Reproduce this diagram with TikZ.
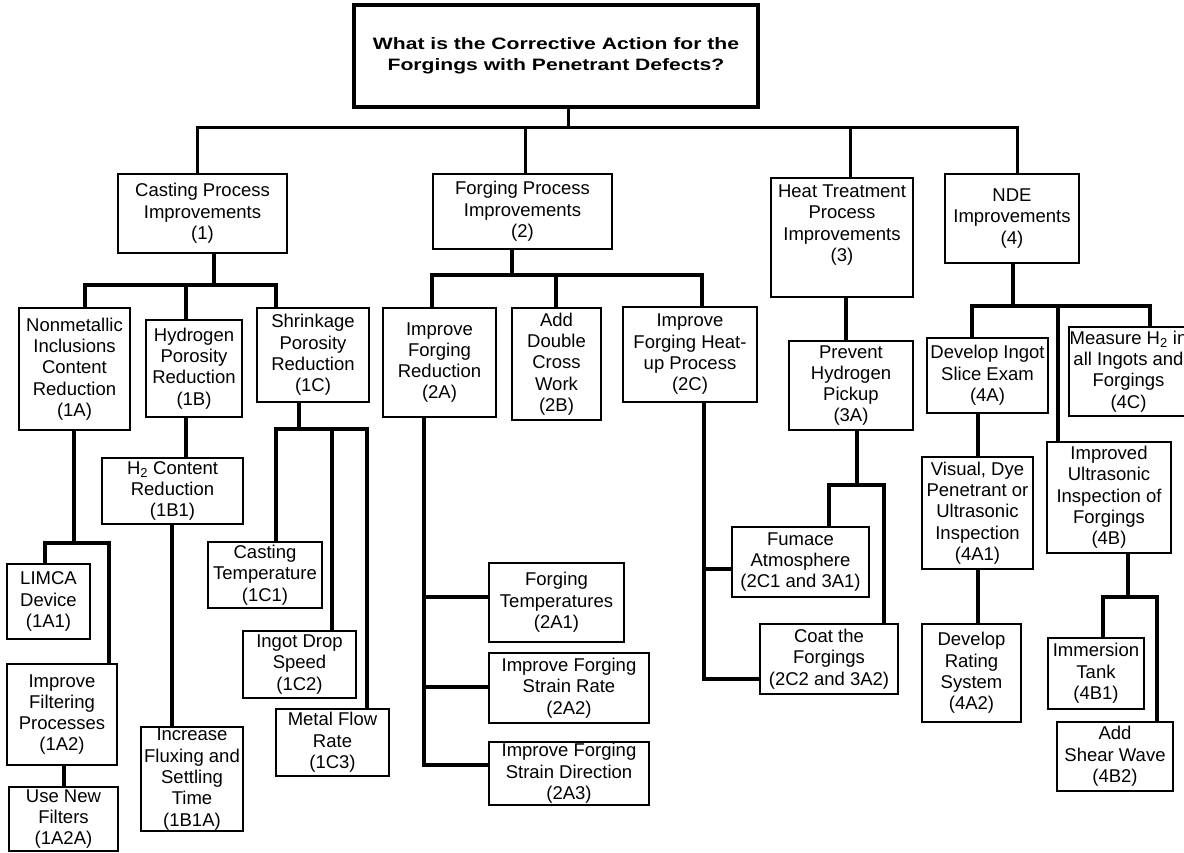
\documentclass[tikz,border=0pt]{standalone}
\usepackage{fontspec}
\setmainfont{Liberation Sans}
\newfontfamily\titlefont{Liberation Sans}[FakeStretch=1.28]
\tikzset{
  box/.style={draw, line width=1.8pt, inner sep=0pt, align=center,
    font=\fontsize{18.5}{21.3}\selectfont},
  txt/.style={inner sep=0pt, align=center, font=\fontsize{18.5}{21.3}\selectfont},
  titlebox/.style={draw, line width=3.2pt, inner sep=0pt, align=center,
    font=\titlefont\bfseries\fontsize{16.5}{21}\selectfont},
  conn/.style={line width=3.8pt, line join=miter},
  topconn/.style={line width=3.0pt, line join=miter}
}
\newcommand\bx[7][box]{\node[#1, minimum width={#5-#3}, minimum height={#6-#4}] (#2) at ({(#3+#5)/2},{(#4+#6)/2}) {#7};}
\begin{document}
\begin{tikzpicture}[x=1pt, y=-1pt]
\useasboundingbox (0,0) rectangle (1184,853);
% ---- nodes
\bx[titlebox]{root}{354}{5}{758}{107}{What is the Corrective Action for the\\Forgings with Penetrant Defects?}
\bx{n1}{118}{174}{287}{253}{Casting Process\\Improvements\\(1)}
\bx{n2}{433}{174}{612}{249}{Forging Process\\Improvements\\(2)}
\bx{n3}{771}{178}{913}{297}{}
\node[txt] (n3t) at (842,225) {Heat Treatment\\Process\\Improvements\\(3)};
\bx{n4}{945}{174}{1079}{263}{NDE\\Improvements\\(4)}
\bx{n1A}{19}{308}{130}{430}{Nonmetallic\\Inclusions\\Content\\Reduction\\(1A)}
\bx{n1B}{146}{320}{242}{417}{Hydrogen\\Porosity\\Reduction\\(1B)}
\bx{n1C}{257}{308}{369}{402}{Shrinkage\\Porosity\\Reduction\\(1C)}
\bx{n1B1}{102}{458}{243}{524}{H\textsubscript{2} Content\\Reduction\\(1B1)}
\bx{n1A1}{7}{564}{90}{639}{LIMCA\\Device\\(1A1)}
\bx{n1A2}{7}{664}{117}{765}{Improve\\Filtering\\Processes\\(1A2)}
\bx{n1A2A}{9}{787}{118}{851}{Use New\\Filters\\(1A2A)}
\bx{n1B1A}{141}{727}{243}{831}{Increase\\Fluxing and\\Settling\\Time\\(1B1A)}
\bx{n1C1}{208}{542}{322}{608}{Casting\\Temperature\\(1C1)}
\bx{n1C2}{243}{631}{356}{698}{Ingot Drop\\Speed\\(1C2)}
\bx{n1C3}{276}{709}{389}{776}{Metal Flow\\Rate\\(1C3)}
\bx{n2A}{383}{308}{496}{417}{Improve\\Forging\\Reduction\\(2A)}
\bx{n2B}{512}{308}{601}{420}{Add\\Double\\Cross\\Work\\(2B)}
\bx{n2C}{623}{307}{757}{402}{Improve\\Forging Heat-\\up Process\\(2C)}
\bx{n2A1}{489}{563}{624}{642}{Forging\\Temperatures\\(2A1)}
\bx{n2A2}{489}{653}{649}{723}{Improve Forging\\Strain Rate\\(2A2)}
\bx{n2A3}{489}{742}{649}{805}{Improve Forging\\Strain Direction\\(2A3)}
\bx{n3A}{789}{341}{913}{430}{Prevent\\Hydrogen\\Pickup\\(3A)}
\bx{nF}{732}{527}{869}{597}{Fumace\\Atmosphere\\(2C1 and 3A1)}
\bx{nCoat}{760}{624}{898}{694}{Coat the\\Forgings\\(2C2 and 3A2)}
\bx{n4A}{927}{338}{1048}{413}{Develop Ingot\\Slice Exam\\(4A)}
\bx{n4A1}{922}{457}{1033}{569}{Visual, Dye\\Penetrant or\\Ultrasonic\\Inspection\\(4A1)}
\bx{n4A2}{922}{624}{1021}{722}{Develop\\Rating\\System\\(4A2)}
\bx{n4B}{1047}{442}{1171}{553}{Improved\\Ultrasonic\\Inspection of\\Forgings\\(4B)}
\bx{n4C}{1069}{327}{1188}{416}{Measure H\textsubscript{2} in\\all Ingots and\\Forgings\\(4C)}
\bx{n4B1}{1048}{638}{1144}{709}{Immersion\\Tank\\(4B1)}
\bx{n4B2}{1057}{722}{1173}{791}{Add\\Shear Wave\\(4B2)}
% ---- connectors: top level
\coordinate (r0) at (568,128); \coordinate (rL) at (197,128);
\coordinate (rR) at (1017,128); \coordinate (r2) at (525,128); \coordinate (r3) at (850,128);
\draw[topconn] (root.south -| r0) -- (r0);
\draw[topconn] (rL |- n1.north) -- (rL) -- (rR) -- (rR |- n4.north);
\draw[topconn] (r2) -- (r2 |- n2.north);
\draw[topconn] (r3) -- (r3 |- n3.north);
% casting
\coordinate (c0) at (214,285); \coordinate (cL) at (85,285);
\coordinate (cR) at (276,285); \coordinate (cM) at (186,285);
\draw[conn] (n1.south -| c0) -- (c0);
\draw[conn] (cL |- n1A.north) -- (cL) -- (cR) -- (cR |- n1C.north);
\draw[conn] (cM) -- (cM |- n1B.north);
% 1A
\coordinate (a0) at (74,543); \coordinate (aL) at (45,543); \coordinate (aR) at (109,543);
\coordinate (a2) at (64,0);
\draw[conn] (n1A.south -| a0) -- (a0);
\draw[conn] (aL |- n1A1.north) -- (aL) -- (aR) -- (aR |- n1A2.north);
\draw[conn] (n1A2.south -| a2) -- (n1A2A.north -| a2);
% 1B
\coordinate (bb) at (186,0); \coordinate (bb1) at (172,0);
\draw[conn] (n1B.south -| bb) -- (n1B1.north -| bb);
\draw[conn] (n1B1.south -| bb1) -- (n1B1A.north -| bb1);
% 1C
\coordinate (s0) at (299,429); \coordinate (sL) at (276,429);
\coordinate (sM) at (332,429); \coordinate (sR) at (367,429);
\draw[conn] (n1C.south -| s0) -- (s0);
\draw[conn] (sL |- n1C1.north) -- (sL) -- (sR) -- (sR |- n1C3.north);
\draw[conn] (sM) -- (sM |- n1C2.north);
% forging
\coordinate (f0) at (512,275); \coordinate (fL) at (432,275);
\coordinate (fM) at (556,275); \coordinate (fR) at (702,275);
\draw[conn] (n2.south -| f0) -- (f0);
\draw[conn] (fL |- n2A.north) -- (fL) -- (fR) -- (fR |- n2C.north);
\draw[conn] (fM) -- (fM |- n2B.north);
% 2A
\coordinate (g0) at (424,765); \coordinate (g1) at (424,597); \coordinate (g2) at (424,687);
\draw[conn] (n2A.south -| g0) -- (g0) -- (g0 -| n2A3.west);
\draw[conn] (g1) -- (g1 -| n2A1.west);
\draw[conn] (g2) -- (g2 -| n2A2.west);
% 2C
\coordinate (h0) at (704,679); \coordinate (h1) at (704,569);
\draw[conn] (n2C.south -| h0) -- (h0) -- (h0 -| nCoat.west);
\draw[conn] (h1) -- (h1 -| nF.west);
% heat treatment
\coordinate (k) at (846,0);
\draw[conn] (n3.south -| k) -- (n3A.north -| k);
\coordinate (m0) at (857,485); \coordinate (mL) at (829,485); \coordinate (mR) at (884,485);
\draw[conn] (n3A.south -| m0) -- (m0);
\draw[conn] (mL |- nF.north) -- (mL) -- (mR) -- (mR |- nCoat.north);
% NDE
\coordinate (d0) at (1013,306); \coordinate (dL) at (972,306);
\coordinate (dM) at (1058,306); \coordinate (dR) at (1150,306);
\draw[conn] (n4.south -| d0) -- (d0);
\draw[conn] (dL |- n4A.north) -- (dL) -- (dR) -- (dR |- n4C.north);
\draw[conn] (dM) -- (dM |- n4B.north);
\coordinate (e) at (978,0);
\draw[conn] (n4A.south -| e) -- (n4A1.north -| e);
\draw[conn] (n4A1.south -| e) -- (n4A2.north -| e);
\coordinate (u0) at (1128,597); \coordinate (uL) at (1103,597); \coordinate (uR) at (1157,597);
\draw[conn] (n4B.south -| u0) -- (u0);
\draw[conn] (uL |- n4B1.north) -- (uL) -- (uR) -- (uR |- n4B2.north);
\end{tikzpicture}
\end{document}
